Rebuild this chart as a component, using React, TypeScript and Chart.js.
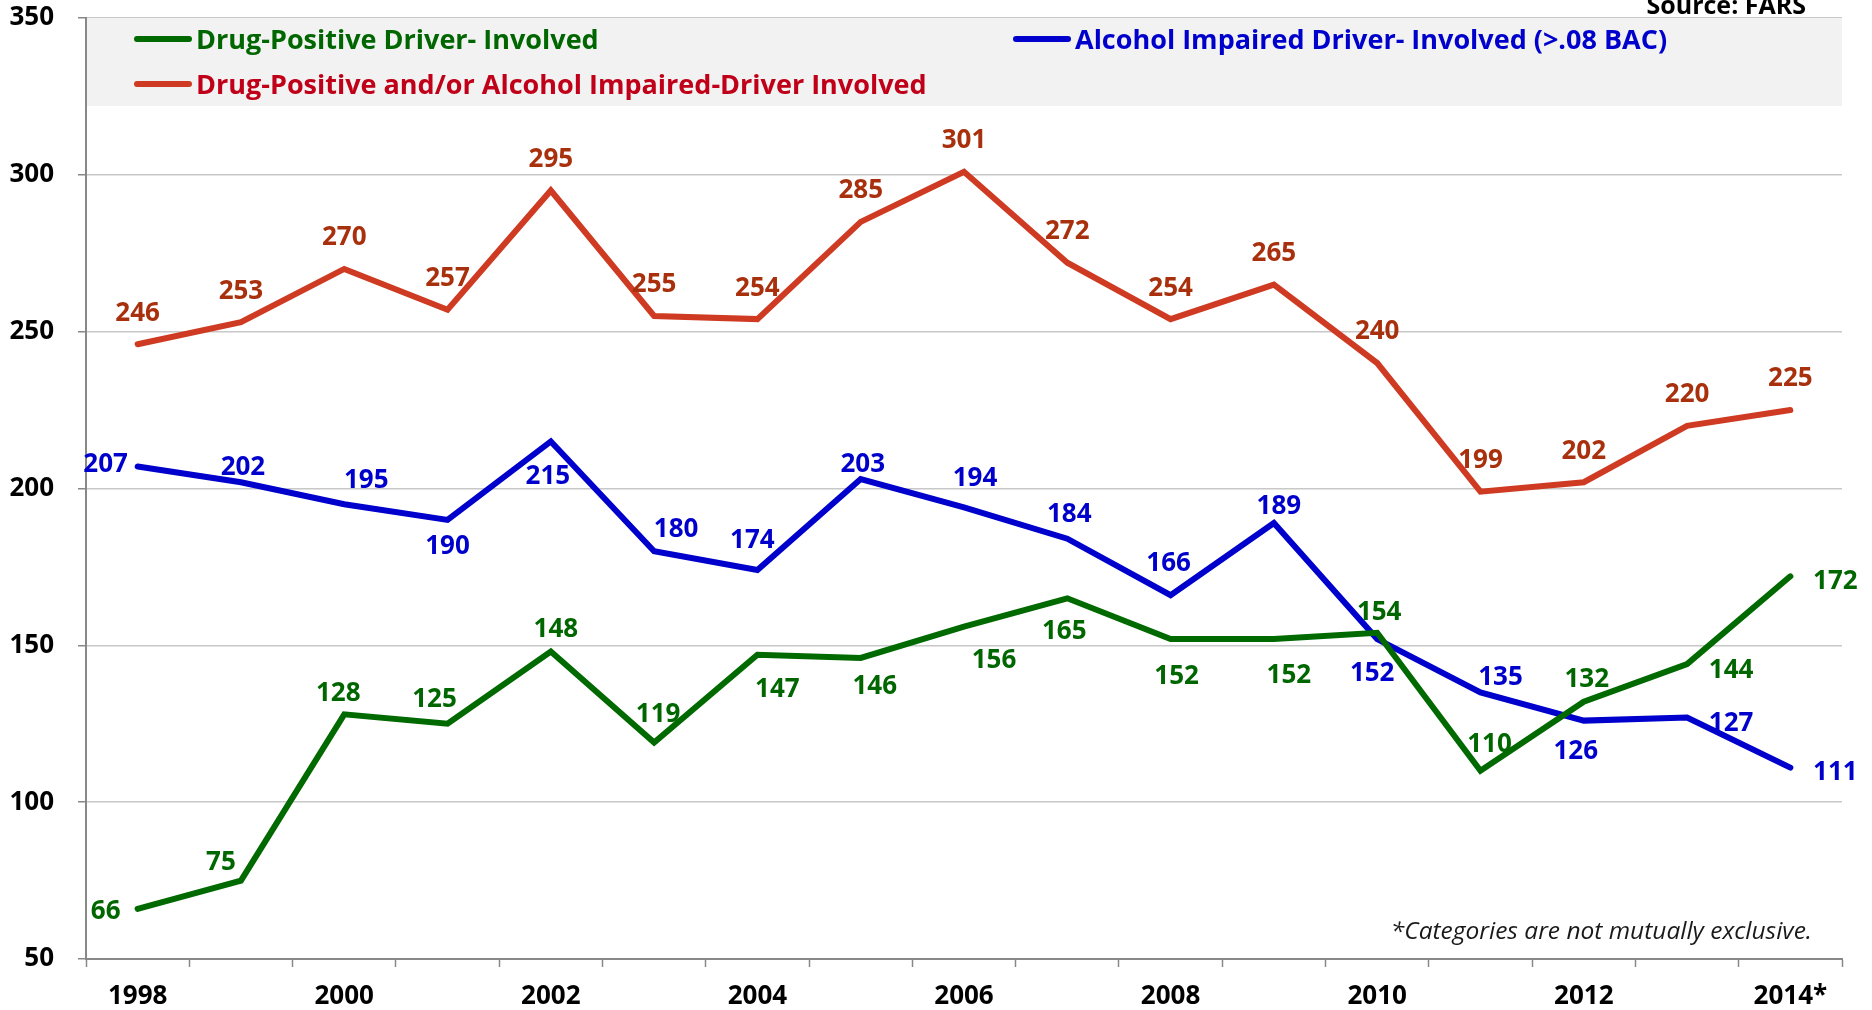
import React, { useEffect, useRef } from "react";
import { Chart, registerables } from "chart.js";

Chart.register(...registerables);

// ---------- data ----------
const years = ["1998", "1999", "2000", "2001", "2002", "2003", "2004", "2005", "2006", "2007", "2008", "2009", "2010", "2011", "2012", "2013", "2014*"];
const drugPositive = [66, 75, 128, 125, 148, 119, 147, 146, 156, 165, 152, 152, 154, 110, 132, 144, 172];
const alcoholImpaired = [207, 202, 195, 190, 215, 180, 174, 203, 194, 184, 166, 189, 152, 135, 126, 127, 111];
const drugOrAlcohol = [246, 253, 270, 257, 295, 255, 254, 285, 301, 272, 254, 265, 240, 199, 202, 220, 225];
const yMin = 50;
const yMax = 350;
const yStep = 50;

const seriesNames = [
  "Drug-Positive Driver- Involved",
  "Alcohol Impaired Driver- Involved (>.08 BAC)",
  "Drug-Positive and/or Alcohol Impaired-Driver Involved",
];
const sourceText = "Source: FARS";
const footnoteText = "*Categories are not mutually exclusive.";

// ---------- label placement (pixel offsets from each point) ----------
const greenLabelDx = [-32, -20, -6, -13, 5, 4, 20, 14, 30, -3, 6, 15, 2, 9, 3, 44, 45];
const greenLabelDy = [0, -21, -24, -27, -25, -31, 32, 26, 31, 30, 35, 34, -23, -29, -25, 3, 2];
const blueLabelDx = [-32, 2, 22, 0, -3, 22, -5, 2, 11, 2, -2, 5, -5, 20, -8, 44, 45];
const blueLabelDy = [-5, -18, -27, 24, 32, -25, -32, -17, -32, -27, -35, -19, 32, -18, 28, 3, 2];
const redLabelDx = [0, 0, 0, 0, 0, 0, 0, 0, 0, 0, 0, 0, 0, 0, 0, 0, 0];
const redLabelDy = [-34, -34, -34, -34, -34, -34, -34, -34, -34, -34, -34, -34, -34, -34, -34, -34, -34];

// ---------- styles ----------
const FONT = "'Open Sans', 'Noto Sans', sans-serif";
const GREEN_LINE = "#006A00";
const GREEN_TEXT = "#006600";
const BLUE_LINE = "#0000CC";
const BLUE_TEXT = "#0000CC";
const RED_LINE = "#CF3B22";
const RED_TEXT = "#A8300C";
const RED_LEGEND = "#C00018";
const AXIS_GRAY = "#888888";
const GRID_GRAY = "#C8C8C8";
const NUM_SIZE = 26;
const LEGEND_SIZE = 27;
const LABEL_SHIFT = 3;

const labelOffsets = [
  { dx: greenLabelDx, dy: greenLabelDy, color: GREEN_TEXT },
  { dx: blueLabelDx, dy: blueLabelDy, color: BLUE_TEXT },
  { dx: redLabelDx, dy: redLabelDy, color: RED_TEXT },
];

const dataLabelPlugin = {
  id: "dataLabels",
  afterDatasetsDraw(chart: any) {
    const ctx = chart.ctx;
    ctx.save();
    ctx.font = `bold ${NUM_SIZE}px ${FONT}`;
    ctx.textAlign = "center";
    ctx.textBaseline = "middle";
    chart.data.datasets.forEach((ds: any, di: number) => {
      const meta = chart.getDatasetMeta(di);
      const off = labelOffsets[di];
      ctx.fillStyle = off.color;
      meta.data.forEach((pt: any, i: number) => {
        ctx.fillText(String(ds.data[i]), pt.x + off.dx[i], pt.y + off.dy[i] + LABEL_SHIFT);
      });
    });
    ctx.restore();
  },
};

const legendBoxPlugin = {
  id: "legendBox",
  beforeDatasetsDraw(chart: any) {
    const ctx = chart.ctx;
    const a = chart.chartArea;
    ctx.save();
    ctx.fillStyle = "#F2F2F2";
    ctx.fillRect(a.left + 1, a.top, a.right - a.left - 1, 88);

    const entries = [
      { x: a.left + 51, y: a.top + 21, color: GREEN_LINE, text: seriesNames[0], tcolor: GREEN_TEXT },
      { x: a.left + 930, y: a.top + 21, color: BLUE_LINE, text: seriesNames[1], tcolor: BLUE_TEXT },
      { x: a.left + 51, y: a.top + 66, color: RED_LINE, text: seriesNames[2], tcolor: RED_LEGEND },
    ];
    ctx.font = `bold ${LEGEND_SIZE}px ${FONT}`;
    ctx.textBaseline = "middle";
    ctx.textAlign = "left";
    entries.forEach((e) => {
      ctx.strokeStyle = e.color;
      ctx.lineWidth = 6;
      ctx.lineCap = "round";
      ctx.beginPath();
      ctx.moveTo(e.x, e.y);
      ctx.lineTo(e.x + 52, e.y);
      ctx.stroke();
      ctx.fillStyle = e.tcolor;
      ctx.fillText(e.text, e.x + 59, e.y + 2);
    });
    ctx.restore();
  },
  afterDraw(chart: any) {
    const ctx = chart.ctx;
    ctx.save();
    ctx.fillStyle = "#000000";
    ctx.textAlign = "right";
    ctx.textBaseline = "alphabetic";
    ctx.font = `bold 25px ${FONT}`;
    ctx.fillText(sourceText, 1806, 14);
    ctx.fillStyle = "#1A1A1A";
    ctx.font = `italic 24.5px ${FONT}`;
    ctx.textBaseline = "middle";
    ctx.fillText(footnoteText, 1812, 932);
    ctx.restore();
  },
};

export default function App() {
  const canvasRef = useRef<HTMLCanvasElement | null>(null);

  useEffect(() => {
    if (!canvasRef.current) return;
    const mk = (label: string, data: number[], color: string) => ({
      label,
      data,
      borderColor: color,
      backgroundColor: color,
      borderWidth: 6,
      pointRadius: 0,
      pointHoverRadius: 0,
      tension: 0,
      fill: false,
      borderCapStyle: "round" as const,
    });
    const chart = new Chart(canvasRef.current, {
      type: "line",
      data: {
        labels: years,
        datasets: [
          mk(seriesNames[0], drugPositive, GREEN_LINE),
          mk(seriesNames[1], alcoholImpaired, BLUE_LINE),
          mk(seriesNames[2], drugOrAlcohol, RED_LINE),
        ],
      },
      options: {
        animation: false,
        responsive: false,
        devicePixelRatio: 1,
        layout: { padding: { top: 18, right: 30, left: 0, bottom: 0 } },
        plugins: {
          legend: { display: false },
          tooltip: { enabled: false },
          title: { display: false },
        },
        scales: {
          x: {
            type: "category",
            offset: true,
            grid: {
              drawOnChartArea: false,
              drawTicks: true,
              tickLength: 8,
              tickColor: AXIS_GRAY,
              tickWidth: 1.5,
              offset: true,
            },
            border: { color: AXIS_GRAY, width: 2 },
            ticks: {
              autoSkip: false,
              maxRotation: 0,
              minRotation: 0,
              padding: 14,
              color: "#000000",
              font: { family: FONT, size: NUM_SIZE, weight: "bold" },
              callback: (_v: any, i: number) => (i % 2 === 0 ? years[i] : ""),
            },
            afterFit: (s: any) => {
              s.height = 51;
              s.paddingLeft = 0;
              s.paddingRight = 0;
            },
          },
          y: {
            min: yMin,
            max: yMax,
            ticks: {
              stepSize: yStep,
              padding: 24,
              color: "#000000",
              font: { family: FONT, size: NUM_SIZE, weight: "bold" },
            },
            grid: {
              color: GRID_GRAY,
              lineWidth: 1.5,
              tickLength: 8,
              tickColor: AXIS_GRAY,
              tickWidth: 1.5,
            },
            border: { color: AXIS_GRAY, width: 2 },
            afterFit: (s: any) => {
              s.width = 86;
              s.paddingTop = 0;
              s.paddingBottom = 0;
            },
          },
        },
      },
      plugins: [legendBoxPlugin, dataLabelPlugin],
    });
    return () => chart.destroy();
  }, []);

  return (
    <div style={{ position: "fixed", left: 0, top: 0, width: 1872, height: 1010, background: "#ffffff" }}>
      <canvas ref={canvasRef} width={1872} height={1010} style={{ display: "block", width: 1872, height: 1010 }} />
    </div>
  );
}
